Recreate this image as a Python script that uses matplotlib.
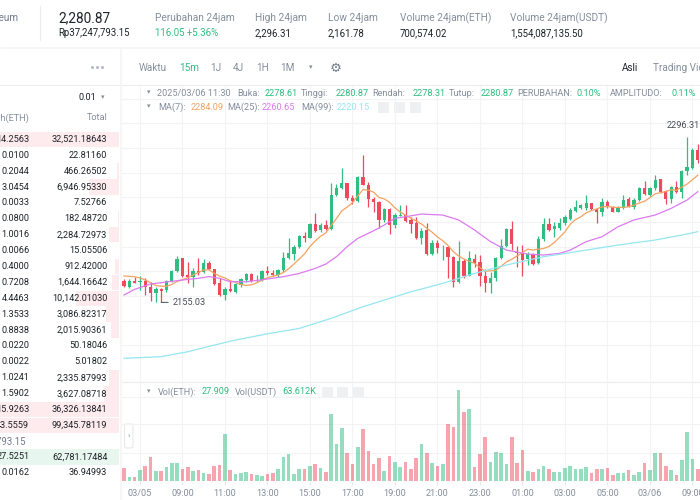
import numpy as np
import pandas as pd
import matplotlib
matplotlib.use('Agg')
import matplotlib.pyplot as plt
from matplotlib.patches import Rectangle, FancyBboxPatch

plt.rcParams['font.family'] = ['Roboto', 'DejaVu Sans']

# ---- data: ETH/USDT 15m candles, 03/05 ~06:45 .. 03/06 ~09:45 ----
opens = [2173.5, 2168.4, 2173.2, 2172.6, 2173.5, 2168.4, 2162.7, 2166.4, 2165.5, 2173.2,
         2181.7, 2192.5, 2178.0, 2176.9, 2181.5, 2180.9, 2188.6, 2183.2, 2171.2, 2161.3,
         2166.7, 2164.1, 2169.8, 2174.1, 2178.9, 2173.5, 2174.1, 2181.7, 2179.7, 2178.3,
         2182.6, 2193.1, 2196.2, 2202.5, 2211.6, 2210.2, 2221.6, 2216.7, 2221.0, 2217.3,
         2246.6, 2252.8, 2256.5, 2244.3, 2241.7, 2262.2, 2255.4, 2243.2, 2240.6, 2225.3,
         2234.9, 2221.3, 2228.9, 2229.5, 2225.3, 2223.0, 2209.6, 2216.7, 2196.2, 2205.9,
         2201.9, 2202.5, 2194.0, 2172.6, 2190.6, 2177.8, 2192.3, 2189.7, 2177.8, 2171.2,
         2175.5, 2193.1, 2203.1, 2217.6, 2198.2, 2197.4, 2191.7, 2196.2, 2188.3, 2208.8,
         2221.6, 2217.3, 2218.1, 2222.4, 2225.8, 2233.2, 2235.2, 2235.8, 2239.5, 2234.6,
         2232.3, 2240.3, 2236.6, 2232.3, 2235.2, 2242.9, 2236.6, 2242.3, 2252.8, 2246.3,
         2252.2, 2259.9, 2250.0, 2242.9, 2253.1, 2249.4, 2267.0, 2269.3, 2285.0]
highs = [2174.6, 2174.6, 2176.9, 2177.8, 2175.5, 2172.4, 2168.4, 2166.9, 2174.1, 2182.6,
         2194.8, 2193.1, 2189.7, 2184.0, 2193.1, 2192.3, 2190.3, 2183.4, 2175.5, 2168.4,
         2174.1, 2171.2, 2176.1, 2180.3, 2179.7, 2178.0, 2182.6, 2186.3, 2182.6, 2183.7,
         2198.2, 2210.2, 2203.9, 2212.4, 2215.3, 2222.4, 2230.9, 2222.4, 2225.3, 2256.5,
         2256.0, 2269.3, 2257.1, 2246.6, 2263.1, 2280.7, 2258.0, 2244.6, 2241.2, 2235.8,
         2235.2, 2230.9, 2238.0, 2237.7, 2228.1, 2228.1, 2218.1, 2223.0, 2208.2, 2208.2,
         2203.9, 2203.3, 2194.8, 2207.3, 2191.7, 2199.1, 2196.2, 2195.4, 2183.2, 2180.9,
         2194.0, 2209.3, 2218.1, 2224.4, 2203.1, 2203.9, 2198.2, 2197.4, 2211.9, 2226.7,
         2226.7, 2223.8, 2226.7, 2229.5, 2235.2, 2242.3, 2238.6, 2246.6, 2240.0, 2235.2,
         2243.7, 2242.3, 2237.2, 2237.2, 2246.6, 2244.6, 2243.7, 2253.7, 2258.8, 2253.7,
         2263.6, 2260.5, 2250.8, 2254.2, 2258.5, 2267.9, 2296.31, 2286.4, 2289.8]
lows = [2167.8, 2166.9, 2171.2, 2165.5, 2161.3, 2156.4, 2155.6, 2155.03, 2164.1, 2172.6,
        2181.2, 2176.9, 2171.2, 2168.4, 2178.3, 2179.7, 2182.3, 2169.8, 2160.4, 2157.0,
        2163.8, 2163.3, 2168.4, 2172.6, 2172.6, 2172.6, 2173.5, 2178.3, 2177.8, 2176.9,
        2181.2, 2192.0, 2191.1, 2201.1, 2206.2, 2209.6, 2215.3, 2215.3, 2216.7, 2216.7,
        2245.7, 2252.0, 2242.3, 2238.9, 2240.3, 2254.8, 2236.6, 2232.3, 2218.1, 2223.8,
        2213.3, 2218.1, 2228.6, 2223.8, 2214.4, 2208.8, 2204.8, 2195.7, 2195.7, 2196.8,
        2191.1, 2175.5, 2167.8, 2171.8, 2175.5, 2177.4, 2185.4, 2169.2, 2164.1, 2162.7,
        2173.5, 2191.7, 2201.9, 2199.6, 2184.9, 2177.8, 2186.9, 2186.9, 2187.7, 2207.6,
        2216.1, 2211.0, 2216.7, 2221.0, 2225.3, 2232.3, 2234.3, 2233.8, 2233.8, 2223.0,
        2228.6, 2235.2, 2231.8, 2231.8, 2234.3, 2236.0, 2234.9, 2241.4, 2246.3, 2245.7,
        2250.8, 2248.6, 2238.6, 2240.0, 2248.6, 2243.7, 2263.6, 2268.4, 2273.6]
closes = [2169.0, 2173.2, 2171.8, 2173.5, 2168.4, 2163.3, 2166.4, 2164.9, 2173.2, 2182.0,
          2192.0, 2177.8, 2176.9, 2181.5, 2180.0, 2188.3, 2183.2, 2170.4, 2161.3, 2166.4,
          2164.7, 2170.4, 2174.6, 2178.9, 2173.5, 2174.1, 2181.7, 2179.7, 2178.3, 2182.6,
          2193.1, 2196.8, 2202.5, 2211.6, 2210.2, 2221.6, 2216.1, 2221.0, 2217.3, 2246.6,
          2252.8, 2256.5, 2243.7, 2241.7, 2262.2, 2255.1, 2242.9, 2240.6, 2225.3, 2234.9,
          2221.3, 2229.5, 2229.8, 2224.7, 2221.8, 2209.6, 2216.1, 2196.2, 2205.9, 2201.1,
          2202.5, 2193.4, 2172.6, 2190.3, 2177.8, 2192.5, 2188.8, 2177.4, 2171.2, 2175.5,
          2193.1, 2203.1, 2217.6, 2204.8, 2196.8, 2191.1, 2196.2, 2187.7, 2208.8, 2221.6,
          2216.7, 2220.4, 2222.4, 2228.1, 2233.8, 2236.6, 2238.0, 2240.0, 2234.3, 2232.3,
          2240.3, 2236.0, 2232.3, 2236.0, 2242.3, 2236.6, 2242.3, 2252.8, 2247.1, 2252.8,
          2259.3, 2249.4, 2242.9, 2253.1, 2249.4, 2267.0, 2270.2, 2285.0, 2276.4]
# volume per candle, thousand ETH
volumes = [5.32, 1.82, 1.82, 4.62, 6.30, 10.22, 4.20, 4.20, 5.88, 7.42,
           7.42, 5.04, 6.02, 4.34, 4.48, 3.22, 3.08, 6.44, 6.58, 19.60,
           4.48, 3.08, 3.50, 3.92, 2.94, 2.52, 2.24, 3.08, 3.36, 4.90,
           10.08, 11.20, 2.94, 5.18, 5.18, 6.44, 7.28, 5.32, 3.78, 28.28,
           15.54, 22.12, 11.62, 7.00, 14.28, 21.84, 12.46, 7.00, 9.52, 4.34,
           10.36, 7.84, 5.88, 7.84, 5.18, 9.66, 15.40, 11.90, 7.70, 6.44,
           7.14, 23.80, 22.54, 38.22, 28.84, 30.24, 5.88, 11.48, 18.34, 8.12,
           12.32, 11.76, 7.14, 18.48, 7.70, 13.16, 4.34, 3.78, 5.18, 6.44,
           4.90, 3.92, 3.92, 5.32, 6.30, 5.04, 5.18, 6.02, 3.36, 4.90,
           4.90, 5.32, 2.66, 3.36, 3.36, 4.48, 2.66, 3.92, 7.70, 4.62,
           11.62, 11.62, 6.30, 4.62, 2.52, 8.82, 20.44, 9.24, 4.90]

# MA(7) for the first candles (earlier closes are off screen)
ma7_head = [2177.5, 2177.2, 2176.9, 2175.8, 2174.1, 2171.8]
ma25_idx = [0, 2, 5, 7, 10, 12, 14, 16, 18, 20, 23, 26, 30, 33, 36, 38, 40, 42, 44, 47,
            49, 51, 54, 56, 60, 63, 66, 69, 72, 76, 79, 82, 84, 87, 90, 93, 96, 100, 103, 106, 108]
ma25_val = [2161.3, 2166.1, 2170.7, 2171.8, 2173.5, 2174.6, 2175.5, 2177.0, 2175.5, 2172.6,
            2172.6, 2174.3, 2176.9, 2179.7, 2184.0, 2187.7, 2194.0, 2202.5, 2209.6, 2216.1,
            2221.0, 2226.7, 2228.8, 2230.3, 2229.5, 2225.3, 2216.7, 2206.8, 2199.6, 2196.2,
            2195.4, 2196.8, 2199.6, 2206.8, 2211.0, 2219.5, 2225.3, 2229.5, 2235.2, 2242.3, 2249.4]
ma99_idx = [0, 7, 12, 17, 21, 27, 33, 39, 45, 51, 54, 60, 66, 72, 79, 82, 87, 93, 100, 106, 108]
ma99_val = [2107.3, 2108.7, 2112.9, 2118.6, 2122.9, 2128.2, 2132.8, 2141.4, 2151.3, 2159.8,
            2164.0, 2171.2, 2179.7, 2186.9, 2194.0, 2196.0, 2199.6, 2203.9, 2208.2, 2213.3, 2215.3]

tick_idx = [3, 11, 19, 27, 35, 43, 51, 59, 67, 75, 83, 91, 99, 107]
tick_labels = ['03/05', '09:00', '11:00', '13:00', '15:00', '17:00', '19:00', '21:00',
               '23:00', '01:00', '03:00', '05:00', '03/06', '09:00']

# order book
ask_amounts = ['14.2563', '0.0100', '0.2044', '3.0454', '0.0033', '0.0800', '1.0016', '0.0066',
               '0.4000', '0.7208', '4.4463', '1.3533', '0.8838', '0.0220', '0.0022', '1.0241',
               '1.5902', '15.9263', '43.5559']
ask_totals = ['32,521.18643', '22.81160', '466.26502', '6,946.95330', '7.52766', '182.48720',
              '2,284.72973', '15.05506', '912.42000', '1,644.16642', '10,142.01030', '3,086.82317',
              '2,015.90361', '50.18046', '5.01802', '2,335.87993', '3,627.08718', '36,326.13841',
              '99,345.78119']
ask_depth = [1.0, 0.0, 0.02, 0.25, 0.0, 0.01, 0.08, 0.0, 0.03, 0.06, 0.36, 0.11, 0.07,
             0.0, 0.0, 0.08, 0.13, 1.0, 1.0]
bid_amounts = ['27.5251', '0.0162']
bid_totals = ['62,781.17484', '36.94993']
bid_depth = [1.0, 0.0]

stat_labels = ['Perubahan 24jam', 'High 24jam', 'Low 24jam', 'Volume 24jam(ETH)', 'Volume 24jam(USDT)']
stat_values = ['116.05 +5.36%', '2,296.31', '2,161.78', '700,574.02', '1,554,087,135.50']

# ---- styling ----
W, H = 700, 500
GREEN, RED = '#2FBD80', '#EE4A5C'
GRAY, DARK = '#848E9C', '#1E2329'
MA7C, MA25C, MA99C = '#F4A261', '#DC7AF0', '#94E6F0'
GRID = '#F2F3F5'
FS = 6.6

fig = plt.figure(figsize=(7, 5), dpi=100, facecolor='#F5F5F5')
bg = fig.add_axes([0, 0, 1, 1])
bg.set_xlim(0, W)
bg.set_ylim(H, 0)
bg.axis('off')


def txt(x, y, s, size=FS, color=GRAY, ha='left', **kw):
    fig.text(x / W, 1 - y / H, s, fontsize=size, color=color, ha=ha, va='center', **kw)


# panels
bg.add_patch(Rectangle((0, 0), W, 46, color='white'))
bg.add_patch(Rectangle((0, 49), 119, 451, color='white'))
bg.add_patch(Rectangle((122, 49), 578, 451, color='white'))
bg.plot([40, 40], [6, 40], color='#EAECEF', lw=0.8)
bg.plot([0, 119], [85, 85], color='#EAECEF', lw=0.8)
bg.plot([122, 700], [85, 85], color='#EAECEF', lw=0.8)
bg.plot([122, 700], [382, 382], color='#EAECEF', lw=0.8)

# header
txt(18.5, 18, 'Ethereum', size=7.2, color='#707A8A', ha='right')
txt(58, 18, '2,280.87', size=9.8, color=DARK)
txt(58, 33, 'Rp37,247,793.15', size=6.9, color=DARK)
for lab, val, x0 in zip(stat_labels, stat_values, [155, 255, 328, 400, 510]):
    txt(x0, 18, lab, size=7.3)
    txt(x0, 33, val, size=6.9, color=GREEN if val.startswith('116') else DARK)

# order book
bg.scatter([92, 97, 102], [67, 67, 67], s=1.5, color='#B7BDC6')
txt(96, 98, '0.01', color=DARK, ha='right')
txt(103, 98, '\u25BE', size=5, color=GRAY, ha='center')
txt(29.3, 118, 'Jumlah(ETH)', ha='right')
txt(107.3, 118, 'Total', ha='right')
for i, (a, t, d) in enumerate(zip(ask_amounts, ask_totals, ask_depth)):
    y = 139.3 + 15.9 * i
    if d > 0:
        bg.add_patch(Rectangle((119 - 119 * d, y - 7.8), 119 * d, 15.6, color='#FDEBED', lw=0))
    txt(29.3, y, a, color=DARK, ha='right')
    txt(107.3, y, t, color=DARK, ha='right')
txt(26, 442, 'Rp37,247,793.15', size=6.9, color='#707A8A', ha='right')
for i, (a, t, d) in enumerate(zip(bid_amounts, bid_totals, bid_depth)):
    y = 456.7 + 15.6 * i
    if d > 0:
        bg.add_patch(Rectangle((119 - 119 * d, y - 7.8), 119 * d, 15.6, color='#E7F6EE', lw=0))
    txt(29.3, y, a, color=DARK, ha='right')
    txt(107.3, y, t, color=DARK, ha='right')

# toolbar
for s, x0, c in [('Waktu', 138.5, GRAY), ('15m', 179, GREEN), ('1J', 210, GRAY), ('4J', 233, GRAY),
                 ('1H', 256, GRAY), ('1M', 280, GRAY)]:
    txt(x0, 68, s, size=7.2, color=c)
txt(311, 68, '\u25BE', size=5, color=GRAY, ha='center')
txt(335.5, 68, '\u2699', size=9.5, color='#707A8A', ha='center')
txt(622, 68, 'Asli', size=7.2, color=DARK)
txt(653, 68, 'Trading View', size=7.2, color=GRAY)

# candle info lines
txt(146.6, 93, '\u25BE', size=5)
for s, x0, c in [('2025/03/06 11:30', 157, GRAY), ('Buka:', 237.6, GRAY), ('2278.61', 265, GREEN),
                 ('Tinggi:', 301.3, GRAY), ('2280.87', 335.3, GREEN), ('Rendah:', 372.7, GRAY),
                 ('2278.31', 412.3, GREEN), ('Tutup:', 449.3, GRAY), ('2280.87', 480.7, GREEN),
                 ('PERUBAHAN:', 517.7, GRAY), ('0.10%', 576.2, GREEN), ('AMPLITUDO:', 610.2, GRAY),
                 ('0.11%', 671.2, GREEN)]:
    txt(x0, 93, s, color=c)
txt(146.6, 107, '\u25BE', size=5)
for s, x0, c in [('MA(7):', 158, GRAY), ('2284.09', 191, MA7C), ('MA(25):', 227.3, GRAY),
                 ('2260.65', 261.7, MA25C), ('MA(99):', 301.7, GRAY), ('2220.15', 336.7, MA99C)]:
    txt(x0, 107, s, color=c)
txt(146.6, 392, '\u25BE', size=5)
for s, x0, c in [('Vol(ETH):', 158, GRAY), ('27.909', 202, GREEN), ('Vol(USDT)', 234.7, GRAY),
                 ('63.612K', 282.8, GREEN)]:
    txt(x0, 392, s, color=c)
for x0, y0 in [(378, 107), (394, 107), (409.5, 107), (321.6, 392), (337, 392), (352.5, 392)]:
    bg.add_patch(Rectangle((x0, y0 - 5.5), 11, 11, color='#EEF0F2', lw=0, zorder=5))

# ---- price pane ----
o = np.array(opens)
c = np.array(closes)
x = np.arange(len(c))
cols = np.where(c >= o, GREEN, RED)

ax = fig.add_axes([122 / W, 1 - 382 / H, 578 / W, (382 - 87) / H], facecolor='none')
ax.vlines(x, lows, highs, color=cols, lw=0.9, zorder=3)
ax.bar(x, np.maximum(np.abs(c - o), 0.7), bottom=np.minimum(o, c), width=0.62, color=cols, zorder=4)

ma7 = pd.Series(closes).rolling(7).mean().to_numpy()
ma7[:len(ma7_head)] = ma7_head
ax.plot(x, ma7, color=MA7C, lw=0.9, zorder=5)
ax.plot(ma25_idx, ma25_val, color=MA25C, lw=0.9, zorder=5)
ax.plot(ma99_idx, ma99_val, color=MA99C, lw=0.9, zorder=5)

lo_i = int(np.argmin(lows))
hi_i = int(np.argmax(highs))
ax.annotate(f'{lows[lo_i]:.2f}', xy=(lo_i, lows[lo_i]), xytext=(8, 0), textcoords='offset points',
            va='center', ha='left', fontsize=FS, color='#474D57',
            arrowprops=dict(arrowstyle='-', color='#474D57', lw=0.7, shrinkA=1, shrinkB=0))
ax.annotate(f'{highs[hi_i]:.2f}', xy=(hi_i, highs[hi_i]), xytext=(-3, 8), textcoords='offset points',
            va='center', ha='center', fontsize=FS, color='#474D57')

ax.set_xlim(-0.376, 108.43)
ax.set_ylim(2087.1, 2338.7)
ax.set_xticks(tick_idx)
ax.set_yticks(np.arange(2118.3, 2335, 21.05))
ax.grid(color=GRID, lw=0.8)
ax.set_axisbelow(True)
ax.tick_params(length=0, labelbottom=False, labelleft=False)
for sp in ax.spines.values():
    sp.set_visible(False)

# ---- volume pane ----
vax = fig.add_axes([122 / W, 1 - 481 / H, 578 / W, 99 / H], facecolor='none')
vax.bar(x, volumes, width=0.68, color=cols, alpha=0.5, zorder=3)
vax.set_xlim(-0.376, 108.43)
vax.set_ylim(0, 41.6)
vax.set_yticks([11.9, 23.8, 35.4])
vax.set_xticks(tick_idx)
vax.set_xticklabels(tick_labels)
vax.grid(color=GRID, lw=0.8)
vax.set_axisbelow(True)
vax.tick_params(axis='x', length=3, color='#E6E8EA', pad=3, labelsize=FS, labelcolor=GRAY)
vax.tick_params(axis='y', length=0, labelleft=False)
for sp in vax.spines.values():
    sp.set_visible(False)

# collapse tab at the left of the volume pane
bg.add_patch(FancyBboxPatch((124.5, 424), 8.5, 24, boxstyle='round,pad=0,rounding_size=2',
                            facecolor='white', edgecolor='#E6E8EA', lw=0.8))
txt(128.7, 436, '\u203A', size=6, color=GRAY, ha='center')

fig.savefig('out.png', dpi=100, facecolor=fig.get_facecolor())
